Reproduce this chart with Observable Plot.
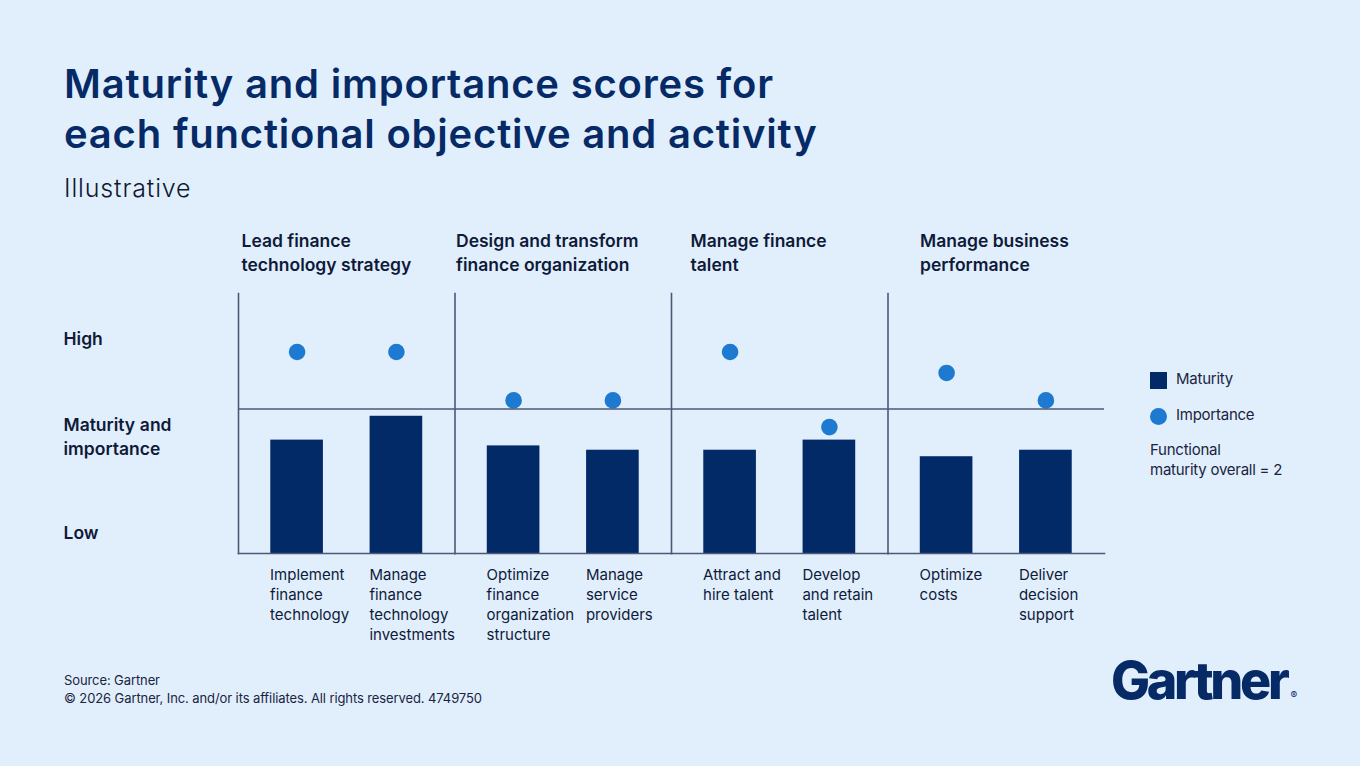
<!DOCTYPE html>
<html>
<head>
<meta charset="utf-8">
<script src="https://cdn.jsdelivr.net/npm/d3@7"></script>
<script src="https://cdn.jsdelivr.net/npm/@observablehq/plot@0.6"></script>
<style>
  html, body { margin: 0; padding: 0; background: #e1effd; }
  #page { position: relative; width: 1360px; height: 766px; overflow: hidden; background: #e1effd; font-family: Inter, "Noto Sans", sans-serif; color: #0f1a38; }
  .abs { position: absolute; white-space: nowrap; }
  #title { left: 64px; top: 59px; font-size: 40px; line-height: 50px; font-weight: 600; color: #062a66; letter-spacing: 0.8px; }
  #subtitle { left: 64px; top: 173px; font-size: 25px; line-height: 30px; font-weight: 300; color: #101830; letter-spacing: 0.85px; }
  #chart { left: 0; top: 220px; }
  .legend-row { font-size: 15px; line-height: 20px; color: #1a2440; letter-spacing: -0.25px; }
  .sw-square { position: absolute; left: 1150px; top: 372px; width: 17px; height: 17px; background: #022a66; }
  .sw-dot { position: absolute; left: 1150px; top: 407.5px; width: 17px; height: 17px; border-radius: 50%; background: #1d7ad0; }
  #footer { left: 64px; top: 670.5px; font-size: 13px; line-height: 18px; color: #1a2440; letter-spacing: -0.1px; }
  #logo { left: 1111px; top: 651px; font-size: 52px; line-height: 60px; font-weight: 800; color: #062a66; letter-spacing: -3.3px; }
  #logo sup { font-size: 10px; font-weight: 400; letter-spacing: 0; vertical-align: 0; margin-left: 4px; }
</style>
</head>
<body>
<div id="page">
  <div id="title" class="abs">Maturity and importance scores for<br>each functional objective and activity</div>
  <div id="subtitle" class="abs">Illustrative</div>
  <div id="chart" class="abs"></div>
  <div class="sw-square"></div>
  <div class="abs legend-row" style="left:1176px; top:369px;">Maturity</div>
  <div class="sw-dot"></div>
  <div class="abs legend-row" style="left:1176px; top:404.5px;">Importance</div>
  <div class="abs legend-row" style="left:1150px; top:439.5px;">Functional<br>maturity overall = 2</div>
  <div id="footer" class="abs">Source: Gartner<br>© 2026 Gartner, Inc. and/or its affiliates. All rights reserved. 4749750</div>
  <div id="logo" class="abs">Gartner<sup>®</sup></div>
</div>
<script>
// Functional objectives (column groups)
const groups = [
  "Lead finance\ntechnology strategy",
  "Design and transform\nfinance organization",
  "Manage finance\ntalent",
  "Manage business\nperformance"
];

// Activities, and the objective each belongs to
const activities = [
  "Implement\nfinance\ntechnology",
  "Manage\nfinance\ntechnology\ninvestments",
  "Optimize\nfinance\norganization\nstructure",
  "Manage\nservice\nproviders",
  "Attract and\nhire talent",
  "Develop\nand retain\ntalent",
  "Optimize\ncosts",
  "Deliver\ndecision\nsupport"
];
const activityGroup = [0, 0, 1, 1, 2, 2, 3, 3];

// Scores
const maturity   = [1.57, 1.90, 1.49, 1.43, 1.43, 1.57, 1.34, 1.43];
const importance = [2.79, 2.79, 2.12, 2.12, 2.79, 1.75, 2.50, 2.12];
const overallMaturity = 2;

// Qualitative y-axis labels
const yTickValues = [3, 1.63, 0.31];
const yTickLabels = ["High", "Maturity and\nimportance", "Low"];

// One row per activity, with its slot inside the objective's panel
const rows = activities.map((activity, i) => ({
  activity,
  group: groups[activityGroup[i]],
  slot: String(activityGroup.slice(0, i).filter(g => g === activityGroup[i]).length),
  maturity: maturity[i],
  importance: importance[i]
}));

const navy = "#022a66";
const blue = "#1d7ad0";
const lineColor = "#4e5776";
const textColor = "#0f1a38";
const groupTitleInset = [3, 1, 19, 32];

const chart = Plot.plot({
  width: 1360,
  height: 430,
  marginLeft: 238,
  marginRight: 256,
  marginTop: 73,
  marginBottom: 97,
  style: { background: "transparent", fontFamily: "Inter, 'Noto Sans', sans-serif", overflow: "visible" },
  fx: { domain: groups, padding: 0, axis: null, round: false },
  x: { type: "band", domain: ["0", "1"], paddingInner: 0.47, paddingOuter: 0.325, round: false, axis: null },
  y: { domain: [0, 3.6] },
  marks: [
    Plot.barY(rows, { fx: "group", x: "slot", y: "maturity", fill: navy }),
    Plot.dot(rows, { fx: "group", x: "slot", y: "importance", r: 8.3, fill: blue, stroke: "none" }),
    Plot.ruleY([overallMaturity], { stroke: lineColor, strokeWidth: 1.6 }),
    Plot.frame({ anchor: "left", stroke: lineColor, strokeWidth: 1.6 }),
    Plot.frame({ anchor: "bottom", stroke: lineColor, strokeWidth: 1.6 }),
    // activity labels under each bar
    Plot.text(rows, {
      fx: "group", x: "slot", text: "activity",
      frameAnchor: "bottom", textAnchor: "start", lineAnchor: "top",
      dx: -27, dy: 12.1, fontSize: 15, lineHeight: 1.333, fill: textColor
    }),
    // objective titles above each panel
    ...groups.map((g, i) => Plot.text([g], {
      fx: d => d, text: d => d,
      frameAnchor: "top-left", textAnchor: "start", lineAnchor: "top",
      dx: groupTitleInset[i], dy: -63.8,
      fontSize: 17.5, fontWeight: 600, lineHeight: 1.371, fill: textColor,
      letterSpacing: "0.25px"
    })),
    Plot.axisY(yTickValues, {
      tickSize: 0, tickPadding: 0, textAnchor: "start", dx: -175,
      tickFormat: (d, i) => yTickLabels[i],
      fontSize: 17.5, fontWeight: 600, lineHeight: 1.371, fill: textColor, label: null
    })
  ]
});

document.getElementById("chart").appendChild(chart);
</script>
</body>
</html>
